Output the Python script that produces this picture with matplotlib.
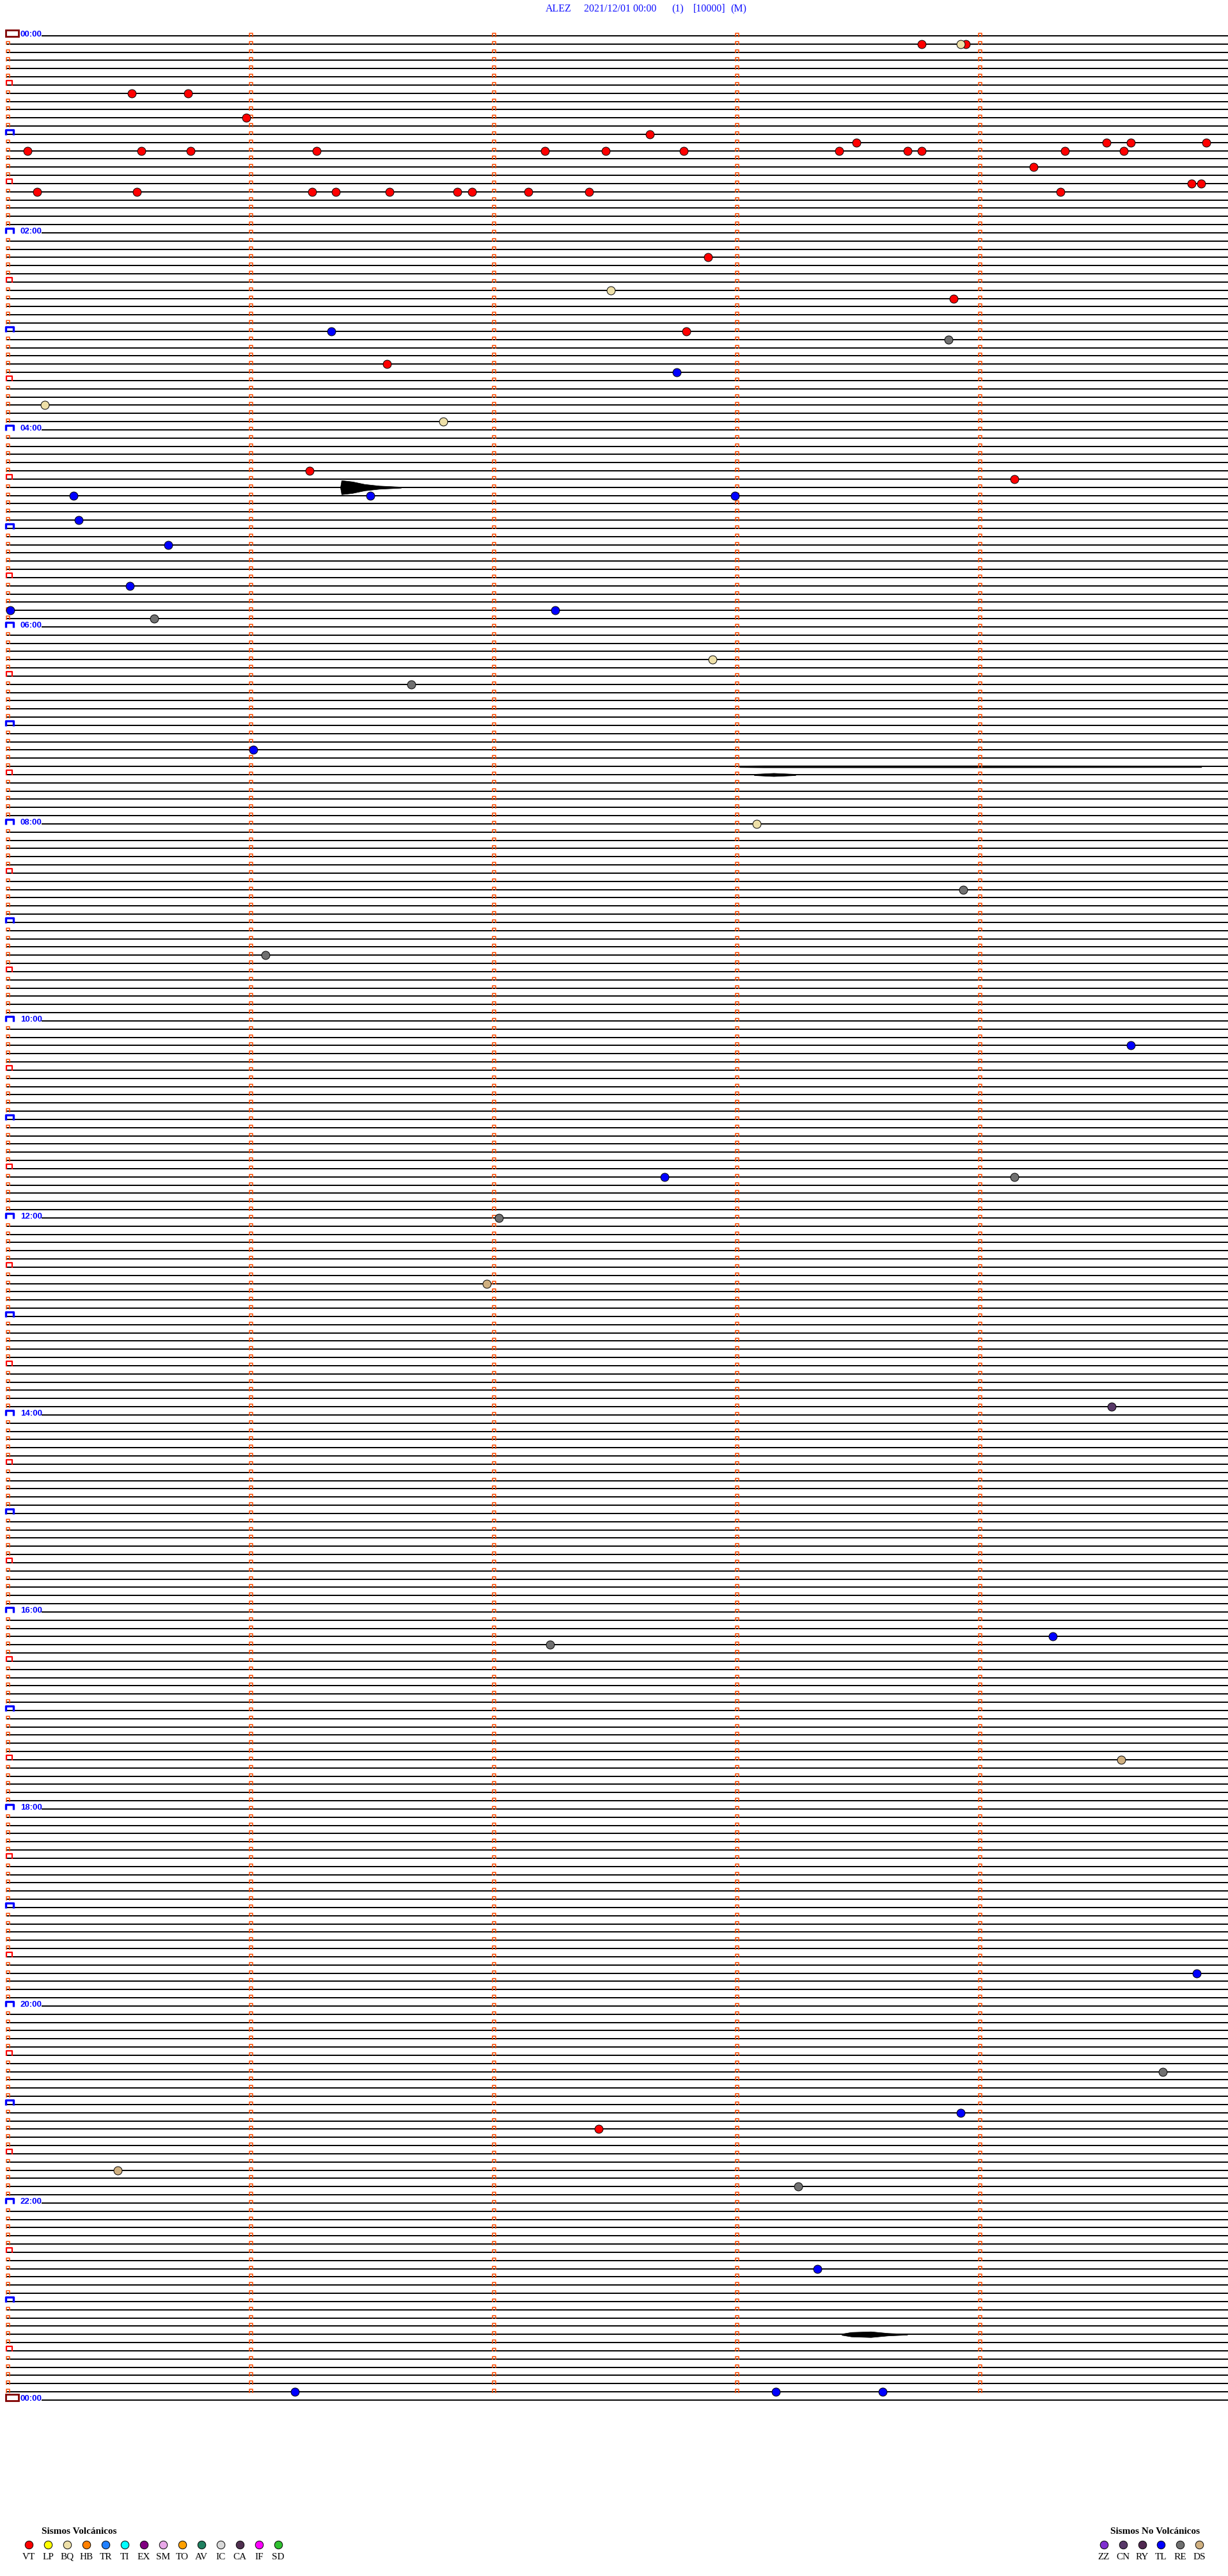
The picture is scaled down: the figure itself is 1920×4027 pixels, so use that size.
import numpy as np
import matplotlib
matplotlib.use("Agg")
import matplotlib.pyplot as plt
from matplotlib.collections import LineCollection

# ---- data read from the helicorder ----
station = "ALEZ"
start_label = "2021/12/01 00:00"
channel = "(1)"
gain = "[10000]"
mode = "(M)"

minutes_per_line = 5
n_lines = 288  # 24 h, one trace every 5 min

volc_codes = ["VT", "LP", "BQ", "HB", "TR", "TI", "EX", "SM", "TO", "AV", "IC", "CA", "IF", "SD"]
volc_colors = ["#ff0000", "#ffff00", "#eee0a8", "#ff8000", "#2080ff", "#00ffff", "#800080",
               "#e8a8e8", "#ffa000", "#208060", "#d8d8d8", "#503050", "#ff00ff", "#30c030"]
novolc_codes = ["ZZ", "CN", "RY", "TL", "RE", "DS"]
novolc_colors = ["#8030d0", "#583868", "#502850", "#0000ff", "#707070", "#d0b080"]

# event times, minutes after 00:00
vt_times = [8.76, 8.94, 35.51, 35.74, 50.98, 62.64, 68.49, 69.52, 69.62, 69.93, 70.08, 70.55,
            70.75, 71.27, 72.21, 72.46, 72.78, 73.42, 73.70, 73.76, 74.35, 74.59, 84.22, 94.87,
            94.91, 95.12, 95.53, 96.25, 96.35, 96.57, 96.85, 96.91, 97.14, 97.39, 99.33, 137.88,
            163.89, 182.79, 201.56, 266.24, 274.14, 1277.43]
bq_times = [8.92, 157.48, 225.15, 236.79, 382.90, 483.08]
re_times = [188.87, 355.60, 396.66, 523.93, 561.06, 699.14, 722.02, 982.23, 1244.75, 1313.25]
tl_times = [181.33, 207.75, 280.27, 281.49, 282.99, 295.29, 310.66, 335.50, 350.01, 352.25,
            436.01, 619.62, 697.70, 979.30, 1184.89, 1268.92, 1363.33, 1436.18, 1438.16, 1438.60]
cn_times = [839.54]
ds_times = [761.97, 1054.58, 1300.45]

# visible bursts on the traces: start (min of day), envelope offsets (min), amplitude (px)
burst_start = [276.367, 1403.43, 448.01, 453.07]
burst_dt = [[0, 0.005, 0.05, 0.10, 0.16, 0.25],
            [0, 0.04, 0.12, 0.19, 0.27],
            [0, 0.10, 1.00, 1.90],
            [0, 0.08, 0.17]]
burst_amp = [[0, 11, 9, 5, 2.5, 0.8],
             [1, 3.5, 4.5, 2, 0.6],
             [1.2, 1.5, 1.5, 1.2],
             [1, 2.5, 1]]

# ---- layout (pixels) ----
W, H = 1920, 4027
X0_PX, MIN_PX = 12.5, 380.0
Y0_PX, LINE_PX = 56.0, 12.833


def px_x(px):
    return (px - X0_PX) / MIN_PX


def dy(px):
    return px / LINE_PX


fig = plt.figure(figsize=(W / 100, H / 100), dpi=100)
ax = fig.add_axes([0, 0, 1, 1])
ax.set_xlim(px_x(0), px_x(W))
ax.set_ylim(dy(H - Y0_PX), dy(-Y0_PX))
ax.axis("off")

lines = np.arange(n_lines + 1)
labelled = lines % 24 == 0

# traces
segs = []
for k in lines:
    x0 = px_x(65) if labelled[k] else px_x(10)
    segs.append([(x0, k), (px_x(W + 5), k)])
ax.add_collection(LineCollection(segs, colors="black", linewidths=1.4, zorder=2))

# bursts
for t0, dts, amps in zip(burst_start, burst_dt, burst_amp):
    k = int(t0 // minutes_per_line)
    xs = t0 - k * minutes_per_line + np.array(dts)
    a = np.array(amps) / LINE_PX
    ax.fill_between(xs, k - a, k + a, color="black", lw=0.5, zorder=2)


def caps(xs, ks, w, h, below):
    out = []
    for x, k in zip(xs, ks):
        xl, xr = x - w / 2 / MIN_PX, x + w / 2 / MIN_PX
        out.append([(xl, k + dy(below)), (xl, k - dy(h)), (xr, k - dy(h)), (xr, k + dy(below))])
    return out


# minute marks on every line (columns) and at left for ordinary lines
col_x, col_k = [], []
for k in lines[:-1]:
    for m in range(1, 5):
        col_x.append(m)
        col_k.append(k)
small = [k for k in lines if k % 6 != 0]
col_x += [0] * len(small)
col_k += small
ax.add_collection(LineCollection(caps(col_x, col_k, 5, 4, 1.5), colors="#ff4a00",
                                 linewidths=1.1, zorder=3))

half = [k for k in lines if k % 6 == 0 and k % 12 != 0]
ax.add_collection(LineCollection(caps([px_x(14.5)] * len(half), half, 9, 7, 1),
                                 colors="#ff0000", linewidths=1.6, zorder=3))

hour = [k for k in lines if k % 12 == 0 and k % n_lines != 0]
ax.add_collection(LineCollection(caps([px_x(15)] * len(hour), hour, 12, 7, 1),
                                 colors="#0000ff", linewidths=2.4, zorder=3))

for k in [0, n_lines]:
    ax.add_patch(plt.Rectangle((px_x(9), k - dy(9)), 20 / MIN_PX, dy(10), fill=False,
                               ec="#800000", lw=2.0, zorder=3))

for k in lines[labelled]:
    hh = (k * minutes_per_line // 60) % 24
    ax.text(px_x(32), k + dy(1), f"{hh:02d}:00", color="#0000ff", fontsize=9.5,
            fontweight="bold", family="Liberation Sans", va="baseline", ha="left", zorder=4)

# events
groups = [(vt_times, volc_colors[0]), (bq_times, volc_colors[2]), (re_times, novolc_colors[4]),
          (tl_times, novolc_colors[3]), (cn_times, novolc_colors[1]), (ds_times, novolc_colors[5])]
for times, col in groups:
    t = np.array(times)
    k = np.floor(t / minutes_per_line)
    ax.plot(t - k * minutes_per_line, k, "o", ms=9.3, mfc=col, mec="black", mew=0.7,
            ls="none", zorder=5)

# ---- title and legends in pixel coordinates ----
lax = fig.add_axes([0, 0, 1, 1])
lax.set_xlim(0, W)
lax.set_ylim(H, 0)
lax.axis("off")

tkw = dict(color="#1010ff", fontsize=11.5, family="Liberation Serif", va="baseline", ha="left")
for xp, s in zip([853, 913, 1050, 1084, 1142], [station, start_label, channel, gain, mode]):
    lax.text(xp, 18, s, **tkw)

lax.text(124, 3957, "Sismos Volcánicos", fontsize=11, fontweight="bold",
         family="Liberation Serif", ha="center", va="center")
for i, (c, col) in enumerate(zip(volc_codes, volc_colors)):
    lax.plot(45 + 30 * i, 3978, "o", ms=9, mfc=col, mec="black", mew=0.7)
    lax.text(45 + 30 * i, 3997, c, fontsize=11, family="Liberation Serif", ha="center", va="center")

lax.text(1806, 3957, "Sismos No Volcánicos", fontsize=11, fontweight="bold",
         family="Liberation Serif", ha="center", va="center")
for i, (c, col) in enumerate(zip(novolc_codes, novolc_colors)):
    lax.plot(1726 + 29.8 * i, 3978, "o", ms=9, mfc=col, mec="black", mew=0.7)
    lax.text(1726 + 29.8 * i, 3997, c, fontsize=11, family="Liberation Serif", ha="center",
             va="center")

fig.savefig("out.png", dpi=100)
